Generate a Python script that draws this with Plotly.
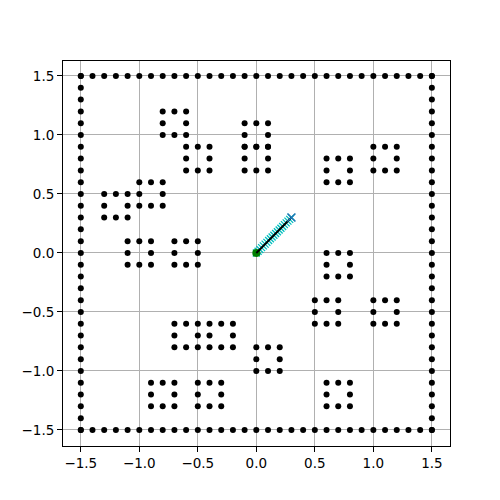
import plotly.graph_objects as go

# wall coordinates along each side of the square
edge_vals = [-1.5, -1.4, -1.3, -1.2, -1.1, -1.0, -0.9, -0.8, -0.7, -0.6, -0.5,
             -0.4, -0.3, -0.2, -0.1, 0.0, 0.1, 0.2, 0.3, 0.4, 0.5, 0.6, 0.7,
             0.8, 0.9, 1.0, 1.1, 1.2, 1.3, 1.4, 1.5]
wall_side = [-1.5, 1.5]

# centres of the 3x3 obstacle rings
ring_cx = [-0.7, -0.5, 0.0, 0.0, 0.7, 1.1, -1.2, -0.9, -1.0, -0.6,
           0.7, 0.6, 1.1, 0.1, -0.6, -0.3, -0.8, -0.4, 0.7]
ring_cy = [1.1, 0.8, 1.0, 0.8, 0.7, 0.8, 0.4, 0.5, 0.0, 0.0,
           -0.1, -0.5, -0.5, -0.9, -0.7, -0.7, -1.2, -1.2, -1.2]
# ring shape (centre left empty)
ring_dx = [-0.1, 0.0, 0.1, -0.1, 0.1, -0.1, 0.0, 0.1]
ring_dy = [0.1, 0.1, 0.1, 0.0, 0.0, -0.1, -0.1, -0.1]

# path from start to goal
path_x = [0.0, 0.015, 0.03, 0.045, 0.06, 0.075, 0.09, 0.105, 0.12, 0.135, 0.15,
          0.165, 0.18, 0.195, 0.21, 0.225, 0.24, 0.255, 0.27, 0.285, 0.3]
path_y = [0.0, 0.015, 0.03, 0.045, 0.06, 0.075, 0.09, 0.105, 0.12, 0.135, 0.15,
          0.165, 0.18, 0.195, 0.21, 0.225, 0.24, 0.255, 0.27, 0.285, 0.3]
start = (0.0, 0.0)
goal = (0.3, 0.3)

ox, oy = [], []
for s in wall_side:
    for v in edge_vals:
        ox += [v, s]
        oy += [s, v]
for cx, cy in zip(ring_cx, ring_cy):
    for dx, dy in zip(ring_dx, ring_dy):
        ox.append(round(cx + dx, 2))
        oy.append(round(cy + dy, 2))

fig = go.Figure()
fig.add_trace(go.Scatter(x=ox, y=oy, mode="markers",
                         marker=dict(color="black", size=6)))
fig.add_trace(go.Scatter(x=path_x, y=path_y, mode="markers",
                         marker=dict(symbol="x-thin", size=7, color="#00bfbf",
                                     line=dict(width=1.3, color="#00bfbf"))))
fig.add_trace(go.Scatter(x=[start[0]], y=[start[1]], mode="markers",
                         marker=dict(color="#008000", size=8)))
fig.add_trace(go.Scatter(x=path_x, y=path_y, mode="lines",
                         line=dict(color="black", width=2)))
fig.add_trace(go.Scatter(x=[goal[0]], y=[goal[1]], mode="markers",
                         marker=dict(symbol="x-thin", size=8, color="#1f77b4",
                                     line=dict(width=1.5, color="#1f77b4"))))

axis_style = dict(
    showgrid=True, gridcolor="#b0b0b0", gridwidth=1.1,
    zeroline=False, showline=True, linecolor="black", linewidth=1, mirror=True,
    ticks="outside", ticklen=5, tickcolor="black", tickwidth=1,
    dtick=0.5, tick0=0, tickformat=".1f",
    tickfont=dict(family="DejaVu Sans", size=13.5, color="black"),
)
fig.update_xaxes(range=[-1.652, 1.655], **axis_style)
fig.update_yaxes(range=[-1.636, 1.627], **axis_style)
fig.update_layout(
    width=500, height=500, showlegend=False,
    margin=dict(l=55, r=58, t=53, b=62),
    plot_bgcolor="white", paper_bgcolor="white",
)

fig.write_html("out.html")
